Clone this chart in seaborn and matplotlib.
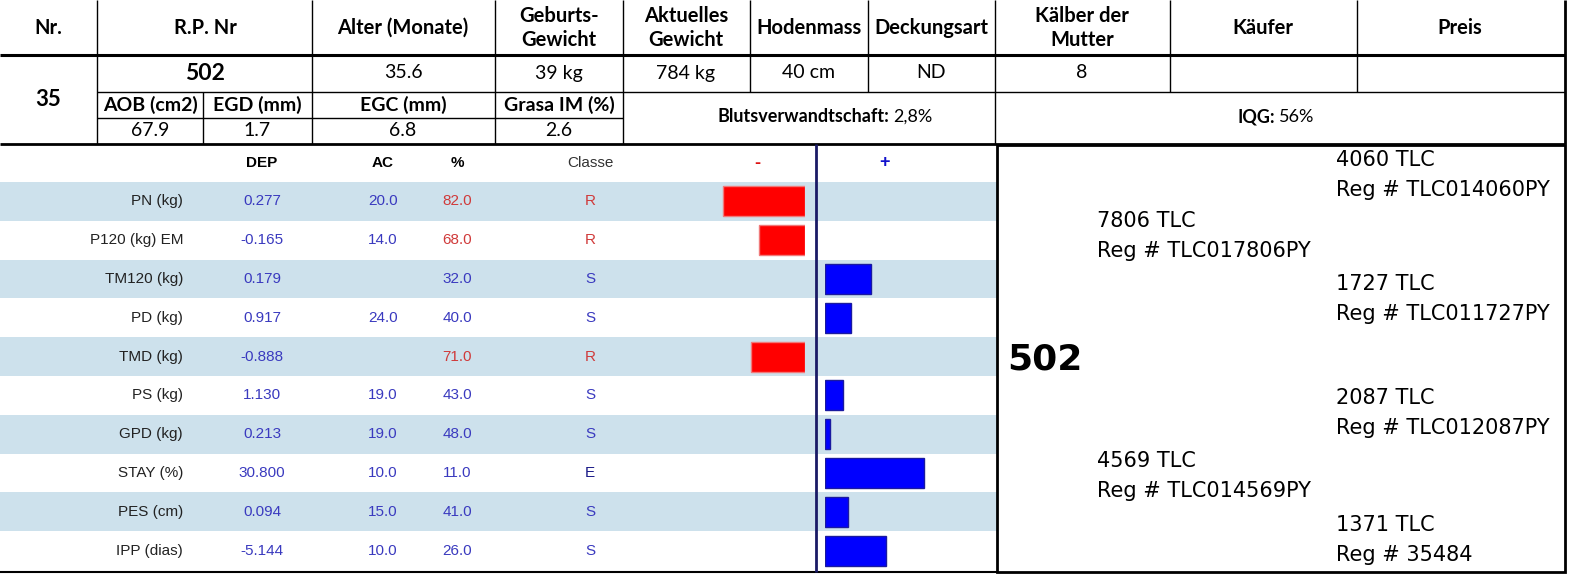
import numpy as np
import pandas as pd
import matplotlib
matplotlib.use("Agg")
import matplotlib.pyplot as plt
import seaborn as sns

sns.set_theme(style="white")
plt.rcParams['font.family'] = ['DejaVu Sans']
plt.rcParams['text.color'] = 'black'

# ---- data: top table ----
kopf = ["Nr.", "R.P. Nr", "Alter (Monate)", "Geburts-\nGewicht", "Aktuelles\nGewicht",
        "Hodenmass", "Deckungsart", "Kälber der\nMutter", "Käufer", "Preis"]
werte = ["", "502", "35.6", "39 kg", "784 kg", "40 cm", "ND", "8", "", ""]
nr = "35"
carcass_kopf = ["AOB (cm2)", "EGD (mm)", "EGC (mm)", "Grasa IM (%)"]
carcass_werte = ["67.9", "1.7", "6.8", "2.6"]
bluts = "2,8%"
iqg = "56%"

# ---- data: DEP table ----
merkmale = ["PN (kg)", "P120 (kg) EM", "TM120 (kg)", "PD (kg)", "TMD (kg)",
            "PS (kg)", "GPD (kg)", "STAY (%)", "PES (cm)", "IPP (dias)"]
dep = ["0.277", "-0.165", "0.179", "0.917", "-0.888", "1.130", "0.213", "30.800", "0.094", "-5.144"]
ac = ["20.0", "14.0", "", "24.0", "", "19.0", "19.0", "10.0", "15.0", "10.0"]
prozent = [82.0, 68.0, 32.0, 40.0, 71.0, 43.0, 48.0, 11.0, 41.0, 26.0]
klasse = ["R", "R", "S", "S", "R", "S", "S", "E", "S", "S"]
balken = [-32, -18, 18, 10, -21, 7, 2, 39, 9, 24]

# ---- data: pedigree ----
tier = "502"
eltern = [("7806 TLC", "Reg # TLC017806PY"), ("4569 TLC", "Reg # TLC014569PY")]
grosseltern = [("4060 TLC", "Reg # TLC014060PY"), ("1727 TLC", "Reg # TLC011727PY"),
               ("2087 TLC", "Reg # TLC012087PY"), ("1371 TLC", "Reg # 35484")]

W, H = 1593, 581
fig = plt.figure(figsize=(W / 100, H / 100), dpi=100)
fig.patch.set_facecolor("white")
ax = fig.add_axes([0, 0, 1, 1])
ax.set_xlim(0, W)
ax.set_ylim(H, 0)
ax.axis("off")

calibri = ['Lato', 'DejaVu Sans']
narrow = ['Liberation Sans Narrow', 'Liberation Sans', 'DejaVu Sans']
tahoma = ['DejaVu Sans']

# top table grid
k = "black"
ax.hlines(55, 0, 1565, color=k, lw=2.2)
ax.hlines(92, 97, 1565, color=k, lw=1)
ax.hlines(118, 97, 623, color=k, lw=1)
ax.hlines(144, 0, 1565, color=k, lw=2)
for x in [97, 312, 495, 623, 995, 1565]:
    ax.vlines(x, 0, 144, color=k, lw=1 if x != 1565 else 2)
for x in [750, 868, 1170, 1357]:
    ax.vlines(x, 0, 92, color=k, lw=1)
ax.vlines(203, 92, 144, color=k, lw=1)

spalten_x = [48, 205, 403, 559, 686, 809, 931, 1082, 1263, 1460]
for x, t in zip(spalten_x, kopf):
    ax.text(x, 28, t, ha="center", va="center", fontsize=14.5, fontweight="bold",
            family=calibri, linespacing=1.2)
for x, t in zip(spalten_x, werte):
    if t == "502":
        ax.text(x, 73, t, ha="center", va="center", fontsize=16.5, fontweight="bold", family=calibri)
    elif t:
        ax.text(x, 73, t, ha="center", va="center", fontsize=14, family=calibri)
ax.text(48, 100, nr, ha="center", va="center", fontsize=16, fontweight="bold", family=calibri)

carcass_x = [150, 257, 403, 559]
for x, t, v in zip(carcass_x, carcass_kopf, carcass_werte):
    ax.text(x, 105, t, ha="center", va="center", fontsize=14, fontweight="bold", family=calibri)
    ax.text(x, 131, v, ha="center", va="center", fontsize=14, family=calibri)

ax.text(889, 117, "Blutsverwandtschaft:", ha="right", va="center", fontsize=13,
        fontweight="bold", family=calibri)
ax.text(893, 117, bluts, ha="left", va="center", fontsize=13, family=calibri)
ax.text(1275, 117, "IQG:", ha="right", va="center", fontsize=13, fontweight="bold", family=calibri)
ax.text(1279, 117, iqg, ha="left", va="center", fontsize=13, family=calibri)

# DEP table
y0, rh = 182, 38.8
band = "#cde1ec"
for i in range(len(merkmale)):
    if i % 2 == 0:
        ax.add_patch(plt.Rectangle((0, y0 + i * rh), 997, rh, color=band, lw=0, zorder=0))
ax.hlines(572, 0, 997, color=k, lw=1.5)
ax.vlines(816, 144, 572, color="#1a1a66", lw=2)

fs = 11
hy = 163
for x, t in [(262, "DEP"), (383, "AC"), (457, "%")]:
    ax.text(x, hy, t, ha="center", va="center", fontsize=fs, fontweight="bold", family=narrow)
ax.text(590, hy, "Classe", ha="center", va="center", fontsize=fs, color="#333333", family=narrow)
ax.text(757, hy, "-", ha="center", va="center", fontsize=13, fontweight="bold", color="#dd1111", family=narrow)
ax.text(885, hy, "+", ha="center", va="center", fontsize=13, fontweight="bold", color="#1111cc", family=narrow)

blau = "#3a3abf"
rot = "#d03a3a"
for i, m in enumerate(merkmale):
    yc = y0 + (i + 0.5) * rh
    ax.text(183, yc, m, ha="right", va="center", fontsize=fs, color="#222222", family=narrow)
    ax.text(262, yc, dep[i], ha="center", va="center", fontsize=fs, color=blau, family=narrow)
    if ac[i]:
        ax.text(383, yc, ac[i], ha="center", va="center", fontsize=fs, color=blau, family=narrow)
    farbe = rot if klasse[i] == "R" else blau
    ax.text(457, yc, f"{prozent[i]:.1f}", ha="center", va="center", fontsize=fs, color=farbe, family=narrow)
    kfarbe = rot if klasse[i] == "R" else ("#1a1a88" if klasse[i] == "E" else blau)
    ax.text(590, yc, klasse[i], ha="center", va="center", fontsize=fs, color=kfarbe, family=narrow)

# bars
df = pd.DataFrame({"merkmal": merkmale, "wert": balken})
neg = df[df.wert < 0].assign(wert=lambda d: -d.wert)
pos = df[df.wert > 0]
skala = 2.55


def bar_axes(x0, x1):
    a = fig.add_axes([x0 / W, 1 - (y0 + 10 * rh) / H, (x1 - x0) / W, 10 * rh / H])
    a.patch.set_alpha(0)
    return a


axn = bar_axes(700, 805)
sns.barplot(data=neg, x="wert", y="merkmal", order=merkmale, orient="h", color="#ff0000",
            edgecolor="#f07a7a", linewidth=1, width=0.77, errorbar=None, saturation=1, ax=axn)
axn.set_xlim(105 / skala, 0)
axn.set_ylim(9.5, -0.5)
axn.axis("off")

axp = bar_axes(825, 995)
sns.barplot(data=pos, x="wert", y="merkmal", order=merkmale, orient="h", color="#0000ff",
            edgecolor="#1a1aa0", linewidth=1, width=0.77, errorbar=None, saturation=1, ax=axp)
axp.set_xlim(0, 170 / skala)
axp.set_ylim(9.5, -0.5)
axp.axis("off")

# pedigree box
ax.add_patch(plt.Rectangle((997, 145), 568, 427, fill=False, ec=k, lw=2, zorder=3))
ax.text(1007, 359, tier, ha="left", va="center", fontsize=26, fontweight="bold", family=tahoma)
ped_fs = 15
for (name, reg), yy in zip(eltern, [221, 461]):
    ax.text(1097, yy, name, ha="left", va="center", fontsize=ped_fs, family=tahoma)
    ax.text(1097, yy + 30, reg, ha="left", va="center", fontsize=ped_fs, family=tahoma)
for (name, reg), yy in zip(grosseltern, [160, 284, 398, 525]):
    ax.text(1336, yy, name, ha="left", va="center", fontsize=ped_fs, family=tahoma)
    ax.text(1336, yy + 30, reg, ha="left", va="center", fontsize=ped_fs, family=tahoma)

fig.savefig("out.png", dpi=100, facecolor="white")
